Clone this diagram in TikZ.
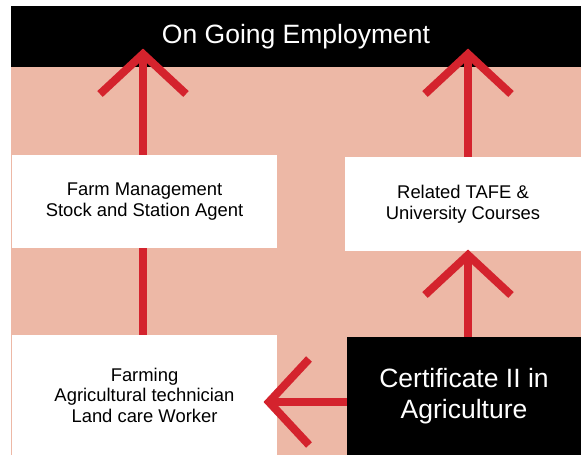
\documentclass[tikz,border=0pt]{standalone}
\usepackage{fontspec}
\setmainfont{Liberation Sans}
\definecolor{salmon}{RGB}{237,184,166}
\definecolor{arrred}{RGB}{212,35,45}
\tikzset{
  blackbox/.style={fill=black,text=white,inner sep=0pt,align=center,font=\fontsize{26.5}{31}\selectfont},
  whitebox/.style={fill=white,text=black,inner sep=0pt,align=center,font=\fontsize{18.4}{20.5}\selectfont},
  shaft/.style={draw=arrred,line width=8pt},
  head/.style={draw=arrred,line width=8pt,line join=miter,miter limit=10}
}
\begin{document}
\begin{tikzpicture}[x=1pt,y=-1pt]
\useasboundingbox (0,0) rectangle (581,455);
\fill[salmon] (11,67) rectangle (581,455);
\node[blackbox,minimum width=570pt,minimum height=61pt] (title) at (296,36.5) {On Going Employment};
\node[whitebox,minimum width=265pt,minimum height=93pt] (fm) at (144.5,201.5) {Farm Management\\Stock and Station Agent};
\node[whitebox,minimum width=265pt,minimum height=120pt] (farming) at (144.5,395) {Farming\\Agricultural technician\\Land care Worker};
\node[whitebox,minimum width=236pt,minimum height=94pt] (tafe) at (463,204) {Related TAFE \&\\University Courses};
\node[blackbox,minimum width=234pt,minimum height=118pt] (cert) at (464,396) {Certificate II in\\Agriculture};
% tip coordinates
\coordinate (t1) at (143,54);
\coordinate (t2) at (468,54);
\coordinate (t3) at (468,255);
\coordinate (t4) at (269,402);
% arrow 1: farm management -> employment
\draw[shaft] (fm.north -| t1) -- (t1);
\draw[head] ([shift={(-43,40)}]t1) -- (t1) -- ([shift={(43,40)}]t1);
% arrow 2: TAFE -> employment
\draw[shaft] (tafe.north -| t2) -- (t2);
\draw[head] ([shift={(-43,40)}]t2) -- (t2) -- ([shift={(43,40)}]t2);
% arrow 3: certificate -> TAFE
\draw[shaft] (cert.north -| t3) -- (t3);
\draw[head] ([shift={(-43,40)}]t3) -- (t3) -- ([shift={(43,40)}]t3);
% line farming -> farm management
\draw[shaft] (farming.north -| t1) -- (fm.south -| t1);
% arrow 4: certificate -> farming
\draw[shaft] (cert.west |- t4) -- (t4);
\draw[head] ([shift={(40,-43)}]t4) -- (t4) -- ([shift={(40,43)}]t4);
\end{tikzpicture}
\end{document}
